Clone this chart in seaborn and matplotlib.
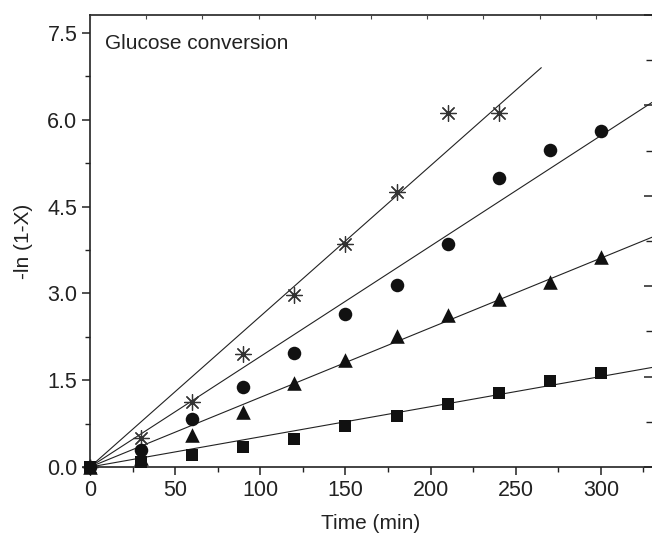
import numpy as np
import pandas as pd
import matplotlib
matplotlib.use("Agg")
import matplotlib.pyplot as plt
import seaborn as sns
from matplotlib.ticker import MultipleLocator, NullFormatter

sns.set_theme(style="ticks")
plt.rcParams["font.family"] = ["Liberation Sans", "DejaVu Sans"]

# measured points, -ln(1-X) vs time (min)
time_star = [0, 30, 60, 90, 120, 150, 180, 210, 240]
star = [0, 0.50, 1.12, 1.95, 2.98, 3.85, 4.75, 6.12, 6.12]

time_long = [0, 30, 60, 90, 120, 150, 180, 210, 240, 270, 300]
circle = [0, 0.29, 0.83, 1.38, 1.97, 2.65, 3.15, 3.85, 5.0, 5.47, 5.81]
triangle = [0, 0.15, 0.55, 0.95, 1.45, 1.85, 2.27, 2.62, 2.90, 3.20, 3.63]
square = [0, 0.08, 0.20, 0.35, 0.48, 0.70, 0.88, 1.08, 1.27, 1.48, 1.62]

# fitted lines (through origin), end points
fit_x = {"star": [0, 265], "circle": [0, 330], "triangle": [0, 330], "square": [0, 330]}
fit_y = {"star": [0, 6.90], "circle": [0, 6.30], "triangle": [0, 3.97], "square": [0, 1.72]}

pts = pd.concat([
    pd.DataFrame({"t": time_star, "y": star, "set": "star"}),
    pd.DataFrame({"t": time_long, "y": circle, "set": "circle"}),
    pd.DataFrame({"t": time_long, "y": triangle, "set": "triangle"}),
    pd.DataFrame({"t": time_long, "y": square, "set": "square"}),
])
fits = pd.concat([pd.DataFrame({"t": fit_x[k], "y": fit_y[k], "set": k}) for k in fit_x])

fig = plt.figure(figsize=(6.52, 5.39), dpi=100)
ax = fig.add_axes([90 / 652, 1 - 467 / 539, 562 / 652, 452 / 539])

sns.lineplot(data=fits, x="t", y="y", units="set", estimator=None,
             color="#222222", lw=0.8, ax=ax, legend=False)

styles = {
    "star": dict(marker=(8, 2, 0), s=130, color="#333333", linewidths=0.9),
    "circle": dict(marker="o", s=95, color="#111111", linewidths=0),
    "triangle": dict(marker="^", s=110, color="#111111", linewidths=0),
    "square": dict(marker="s", s=65, color="#111111", linewidths=0),
}
for k, st in styles.items():
    sub = pts[pts["set"] == k]
    sns.scatterplot(x=sub["t"], y=sub["y"], ax=ax, zorder=3, clip_on=False, **st)

ax.set_xlim(0, 330)
ax.set_ylim(0, 7.81)
ax.xaxis.set_major_locator(MultipleLocator(50))
ax.xaxis.set_minor_locator(MultipleLocator(25))
ax.yaxis.set_major_locator(MultipleLocator(1.5))
ax.yaxis.set_minor_locator(MultipleLocator(0.75))
ax.yaxis.set_major_formatter(matplotlib.ticker.FormatStrFormatter("%.1f"))
ax.tick_params(which="major", direction="out", length=6, width=1.1, labelsize=15.5,
               colors="#222222", pad=3)
ax.tick_params(which="minor", direction="out", length=3.5, width=1.0, colors="#222222")
ax.spines["right"].set_visible(False)
for s in ["left", "bottom", "top"]:
    ax.spines[s].set_linewidth(1.2)
    ax.spines[s].set_color("#222222")

ax.set_xlabel("Time (min)", fontsize=15, color="#222222", labelpad=10)
ax.set_ylabel("-ln (1-X)", fontsize=15, color="#222222", labelpad=10)
ax.text(0.027, 0.936, "Glucose conversion", transform=ax.transAxes,
        fontsize=15, color="#222222", va="center", ha="left")

# top and right inner ticks
top = ax.twiny()
top.set_xlim(0, 10)
top.xaxis.set_major_locator(MultipleLocator(1))
top.xaxis.set_major_formatter(NullFormatter())
top.tick_params(axis="x", direction="in", length=3, width=0.8, colors="#444444")
right = ax.twinx()
right.set_ylim(0, 10)
right.yaxis.set_major_locator(MultipleLocator(2))
right.yaxis.set_minor_locator(MultipleLocator(1))
right.yaxis.set_major_formatter(NullFormatter())
right.tick_params(axis="y", which="major", direction="in", length=6, width=1.1, colors="#222222")
right.tick_params(axis="y", which="minor", direction="in", length=4, width=1.0, colors="#222222")
for a in (top, right):
    for s in a.spines.values():
        s.set_visible(False)

fig.savefig("out.png", dpi=100)
